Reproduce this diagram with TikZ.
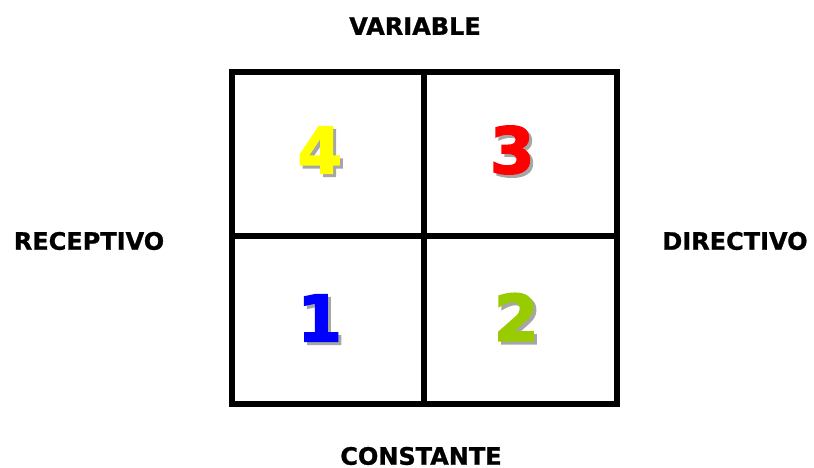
\documentclass[tikz,border=0pt]{standalone}
\usepackage{fontspec}
\setmainfont{DejaVu Sans}
\newfontfamily\qdheavy{DejaVu Sans}[BoldFeatures={FakeBold=2.5}]
\newfontfamily\qdlabel{DejaVu Sans}[BoldFeatures={FakeBold=1}]
\usetikzlibrary{positioning,calc}
\definecolor{qdYellow}{HTML}{FFFF00}
\definecolor{qdRed}{HTML}{FF0000}
\definecolor{qdBlue}{HTML}{0000FF}
\definecolor{qdGreen}{HTML}{99CC00}
\definecolor{qdShadow}{HTML}{A6A6A6}
\tikzset{
  qd-cell/.style={
    draw=black, line width=6pt, minimum width=192.5pt,
    inner sep=0pt, outer sep=0pt
  },
  qd-num/.style={font=\fontsize{64}{64}\qdheavy\bfseries, inner sep=0pt},
  qd-shadow/.style={qd-num, text=qdShadow},
  qd-axis/.style={font=\fontsize{24}{24}\qdlabel\bfseries, inner sep=0pt}
}
\begin{document}
\begin{tikzpicture}[x=1pt,y=-1pt]
\useasboundingbox (0,0) rectangle (814,467);
% the four quadrants
\node[qd-cell, minimum height=164pt] (c4) at (327.75,154) {};
\node[qd-cell, minimum height=164pt, right=0pt of c4] (c3) {};
\node[qd-cell, minimum height=168pt, below=0pt of c4] (c1) {};
\node[qd-cell, minimum height=168pt, right=0pt of c1] (c2) {};

% numbers with their shadow
\node[qd-shadow] (s4) at ($(c4.center)+(-5,-1)$) {4};
\node[qd-num, text=qdYellow] (n4) at ($(c4.center)+(-8,-4)$) {4};
\node[qd-shadow] (s3) at ($(c3.center)+(-5,-1)$) {3};
\node[qd-num, text=qdRed] (n3) at ($(c3.center)+(-8,-4)$) {3};
\node[qd-shadow] (s1) at ($(c1.center)+(-5,1)$) {1};
\node[qd-num, text=qdBlue] (n1) at ($(c1.center)+(-8,-2)$) {1};
\node[qd-shadow] (s2) at ($(c2.center)+(-1,0)$) {2};
\node[qd-num, text=qdGreen] (n2) at ($(c2.center)+(-4,-3)$) {2};

% axis labels
\node[qd-axis] (var) at (415,26) {VARIABLE};
\node[qd-axis] (con) at (421,456) {CONSTANTE};
\node[qd-axis] (rec) at (89,241) {RECEPTIVO};
\node[qd-axis] (dir) at (735,241) {DIRECTIVO};
\end{tikzpicture}
\end{document}
